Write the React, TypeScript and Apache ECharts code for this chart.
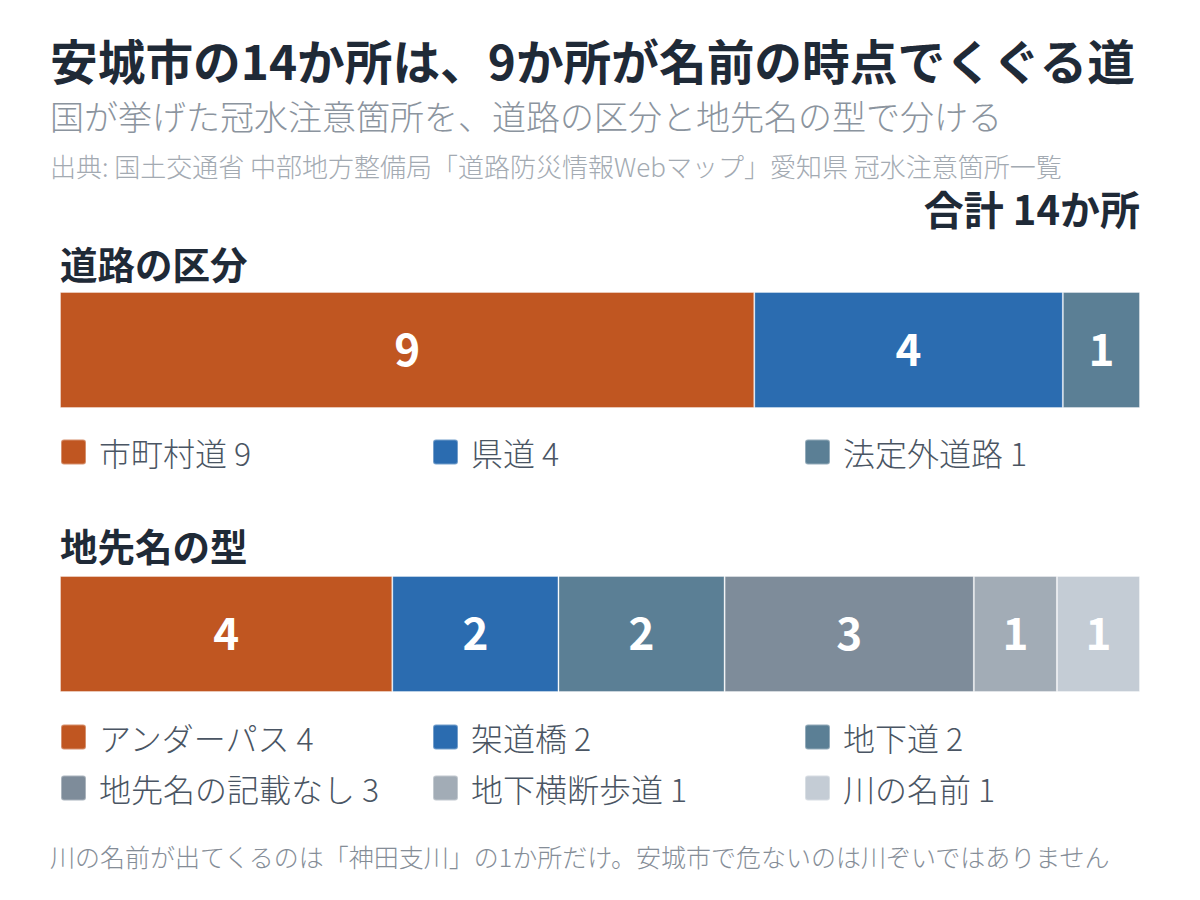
import React, { useEffect, useRef } from 'react';
import * as echarts from 'echarts';

const FONT = '"Noto Sans CJK JP", "Noto Sans", sans-serif';

// 道路の区分
const roadCategories = ['市町村道', '県道', '法定外道路'];
const roadValues = [9, 4, 1];
// 地先名の型
const nameCategories = ['アンダーパス', '架道橋', '地下道', '地先名の記載なし', '地下横断歩道', '川の名前'];
const nameValues = [4, 2, 2, 3, 1, 1];

const palette = ['#C05621', '#2B6CB0', '#5B7F95', '#7E8C9A', '#A2ACB6', '#C4CCD5'];

const TITLE = '安城市の14か所は、9か所が名前の時点でくぐる道';
const SUBTITLE = '国が挙げた冠水注意箇所を、道路の区分と地先名の型で分ける';
const SOURCE = '出典: 国土交通省 中部地方整備局「道路防災情報Webマップ」愛知県 冠水注意箇所一覧';
const TOTAL_LABEL = '合計 14か所';
const NOTE = '川の名前が出てくるのは「神田支川」の1か所だけ。安城市で危ないのは川ぞいではありません';

const sum = (a: number[]) => a.reduce((s, v) => s + v, 0);

const App: React.FC = () => {
  const ref = useRef<HTMLDivElement>(null);

  useEffect(() => {
    document.body.style.margin = '0';
    if (!ref.current) return;
    const chart = echarts.init(ref.current, null, { renderer: 'svg' });

    const valueOf: Record<string, number> = {};
    roadCategories.forEach((n, i) => (valueOf[n] = roadValues[i]));
    nameCategories.forEach((n, i) => (valueOf[n] = nameValues[i]));

    const barLabel = {
      show: true,
      position: 'inside',
      formatter: '{c}',
      color: '#ffffff',
      fontSize: 44,
      fontWeight: 'bold',
      fontFamily: FONT,
      offset: [0, -3],
    };

    const makeSeries = (names: string[], values: number[], axis: number) =>
      names.map((name, i) => ({
        name,
        type: 'bar',
        stack: 'g' + axis,
        xAxisIndex: axis,
        yAxisIndex: axis,
        barWidth: '100%',
        data: [values[i]],
        itemStyle: {
          color: palette[i],
          borderColor: 'rgba(255,255,255,0.35)',
          borderWidth: 1,
        },
        label: barLabel,
        emphasis: { disabled: true },
      }));

    const cols = [60, 432, 804];
    const legendItem = (name: string, i: number, top: number) => ({
      data: [name],
      left: cols[i % 3],
      top,
      padding: 0,
      icon: 'path://M3,0 H22 Q25,0 25,3 V22 Q25,25 22,25 H3 Q0,25 0,22 V3 Q0,0 3,0 Z',
      itemWidth: 25,
      itemHeight: 25,
      selectedMode: false,
      formatter: (n: string) => `${n} ${valueOf[n]}`,
      textStyle: {
        fontSize: 32,
        fontWeight: 300,
        color: '#4A5563',
        fontFamily: FONT,
        padding: [0, 0, 0, 8],
      },
    });

    const legends = [
      ...roadCategories.map((n, i) => legendItem(n, i, 436)),
      ...nameCategories.map((n, i) => legendItem(n, i, i < 3 ? 721 : 772)),
    ];

    const text = (
      t: string,
      x: number,
      y: number,
      size: number,
      color: string,
      weight: string | number = 'normal',
      align = 'left'
    ) => ({
      type: 'text',
      x,
      y,
      style: {
        text: t,
        font: `${weight} ${size}px ${FONT}`,
        fill: color,
        textAlign: align,
        textVerticalAlign: 'middle',
      },
    });

    chart.setOption({
      animation: false,
      backgroundColor: '#ffffff',
      textStyle: { fontFamily: FONT },
      grid: [
        { left: 60, top: 292, width: 1080, height: 116 },
        { left: 60, top: 576, width: 1080, height: 116 },
      ],
      xAxis: [
        { type: 'value', gridIndex: 0, min: 0, max: sum(roadValues), show: false },
        { type: 'value', gridIndex: 1, min: 0, max: sum(nameValues), show: false },
      ],
      yAxis: [
        { type: 'category', gridIndex: 0, data: ['道路の区分'], show: false },
        { type: 'category', gridIndex: 1, data: ['地先名の型'], show: false },
      ],
      legend: legends,
      series: [...makeSeries(roadCategories, roadValues, 0), ...makeSeries(nameCategories, nameValues, 1)],
      graphic: [
        text(TITLE, 50, 59, 47.7, '#1F2A37', 'bold'),
        text(SUBTITLE, 50, 115, 34, '#8B949E', 300),
        text(SOURCE, 50, 165, 26, '#A3AAB2', 300),
        text(TOTAL_LABEL, 1140, 208, 40, '#1F2A37', 'bold', 'right'),
        text('道路の区分', 60, 262, 37.5, '#1F2A37', 'bold'),
        text('地先名の型', 60, 544, 37.5, '#1F2A37', 'bold'),
        text(NOTE, 50, 856, 25, '#858D97', 300),
      ],
    });

    return () => {
      chart.dispose();
    };
  }, []);

  return <div ref={ref} style={{ width: 1200, height: 900 }} />;
};

export default App;
